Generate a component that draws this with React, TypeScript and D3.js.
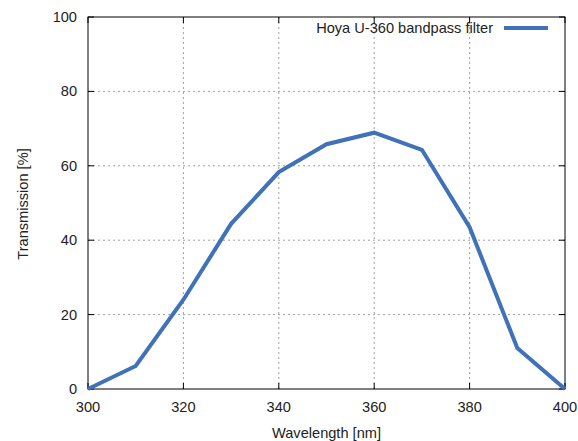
import React from "react";
import * as d3 from "d3";

const wavelengths = [300, 310, 320, 330, 340, 350, 360, 370, 380, 390, 400];
const transmission = [0, 6.2, 24, 44.4, 58.3, 65.8, 68.9, 64.3, 43.5, 11, 0];
const xTicks = [300, 320, 340, 360, 380, 400];
const yTicks = [0, 20, 40, 60, 80, 100];
const seriesName = "Hoya U-360 bandpass filter";

export default function App() {
  const W = 578, H = 441;
  const L = 88, R = 565, T = 17, B = 389;
  const x = d3.scaleLinear().domain([300, 400]).range([L, R]);
  const y = d3.scaleLinear().domain([0, 100]).range([B, T]);
  const line = d3.line<number>().x((_, i) => x(wavelengths[i])).y((d) => y(d));
  const font = "'Liberation Sans', Arial, sans-serif";
  const fs = 14.6;
  return (
    <svg width={W} height={H} style={{ position: "absolute", left: 0, top: 0 }} fontFamily={font}>
      <rect width={W} height={H} fill="#fff" />
      {xTicks.slice(1, -1).map((t) => (
        <line key={"gx" + t} x1={x(t)} x2={x(t)} y1={B} y2={T} stroke="#a0a0a0" strokeWidth={1} strokeDasharray="2,3" />
      ))}
      {yTicks.slice(1, -1).map((t) => (
        <line key={"gy" + t} x1={L} x2={R} y1={y(t)} y2={y(t)} stroke="#a0a0a0" strokeWidth={1} strokeDasharray="2,3" />
      ))}
      {xTicks.map((t) => (
        <g key={"tx" + t}>
          <line x1={x(t)} x2={x(t)} y1={B} y2={B - 6} stroke="#000" />
          <line x1={x(t)} x2={x(t)} y1={T} y2={T + 6} stroke="#000" />
          <text x={x(t)} y={B + 23} textAnchor="middle" fontSize={fs} fill="#222">{t}</text>
        </g>
      ))}
      {yTicks.map((t) => (
        <g key={"ty" + t}>
          <line x1={L} x2={L + 6} y1={y(t)} y2={y(t)} stroke="#000" />
          <line x1={R} x2={R - 6} y1={y(t)} y2={y(t)} stroke="#000" />
          <text x={L - 11} y={y(t) + 5} textAnchor="end" fontSize={fs} fill="#222">{t}</text>
        </g>
      ))}
      <rect x={L} y={T} width={R - L} height={B - T} fill="none" stroke="#000" strokeWidth={1} />
      <path d={line(transmission) || ""} fill="none" stroke="#3f72b8" strokeWidth={4} strokeLinejoin="miter" />
      <text x={493} y={33} textAnchor="end" fontSize={fs} fill="#222">{seriesName}</text>
      <line x1={504} x2={548} y1={28} y2={28} stroke="#3f72b8" strokeWidth={4} />
      <text x={(L + R) / 2} y={438} textAnchor="middle" fontSize={fs} fill="#222">Wavelength [nm]</text>
      <text transform={`translate(28,${(T + B) / 2 + 1}) rotate(-90)`} textAnchor="middle" fontSize={fs} fill="#222">Transmission [%]</text>
    </svg>
  );
}
